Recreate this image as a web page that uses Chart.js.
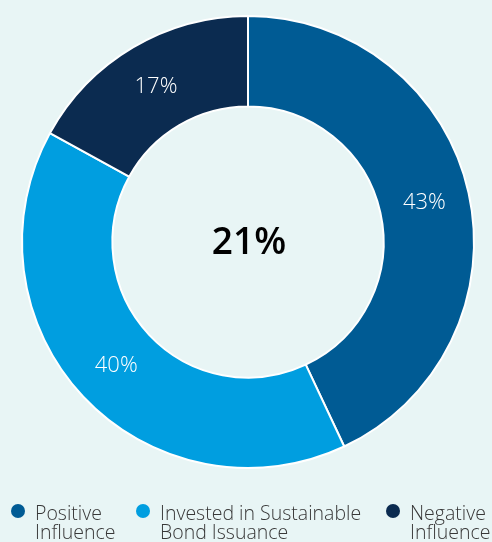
<!DOCTYPE html>
<html>
<head>
<meta charset="utf-8">
<script src="https://cdn.jsdelivr.net/npm/chart.js@4.4.0/dist/chart.umd.min.js"></script>
<style>
  html, body { margin: 0; padding: 0; background: #e8f5f5; }
  #wrap { width: 492px; height: 542px; position: relative; }
</style>
</head>
<body>
<div id="wrap"><canvas id="myChart"></canvas></div>
<script>
const labels = [
  ["Positive", "Influence"],
  ["Invested in Sustainable", "Bond Issuance"],
  ["Negative", "Influence"],
];
const values = [43, 40, 17];
const colors = ["#005b94", "#009ee0", "#0b2b50"];
const centerText = "21%";
const legendX = [18, 143, 393];

const ctx = document.getElementById("myChart").getContext("2d");

// percentages on the slices, big number in the middle, two-line legend
const extras = {
  id: "extras",
  afterDatasetsDraw(chart) {
    const c = chart.ctx;
    const meta = chart.getDatasetMeta(0);
    c.save();
    c.fillStyle = "#ffffff";
    c.font = "300 22px 'Open Sans'";
    c.textAlign = "center";
    c.textBaseline = "middle";
    meta.data.forEach((arc, i) => {
      const mid = (arc.startAngle + arc.endAngle) / 2;
      const r = (arc.innerRadius + arc.outerRadius) / 2;
      c.fillText(values[i] + "%", arc.x + Math.cos(mid) * r, arc.y + Math.sin(mid) * r);
    });
    const a0 = meta.data[0];
    c.fillStyle = "#000000";
    c.font = "600 37px 'Open Sans'";
    c.fillText(centerText, a0.x + 1, a0.y + 1);

    c.textAlign = "left";
    c.textBaseline = "alphabetic";
    c.font = "300 19.5px 'Open Sans'";
    labels.forEach((lines, i) => {
      c.fillStyle = colors[i];
      c.beginPath();
      c.arc(legendX[i], 511, 7, 0, Math.PI * 2);
      c.fill();
      c.fillStyle = "#383838";
      lines.forEach((t, j) => c.fillText(t, legendX[i] + 17, 520 + j * 19));
    });
    c.restore();
  }
};

const myChart = new Chart(ctx, {
  type: "doughnut",
  data: {
    labels: labels.map(l => l.join(" ")),
    datasets: [{
      data: values,
      backgroundColor: colors,
      borderColor: "#ffffff",
      borderWidth: 2,
    }],
  },
  options: {
    responsive: true,
    maintainAspectRatio: false,
    animation: false,
    cutout: "60%",
    layout: { padding: { top: 15, left: 21, right: 17, bottom: 73 } },
    plugins: {
      legend: { display: false },
      tooltip: { enabled: false },
    },
  },
  plugins: [extras],
});
</script>
</body>
</html>
